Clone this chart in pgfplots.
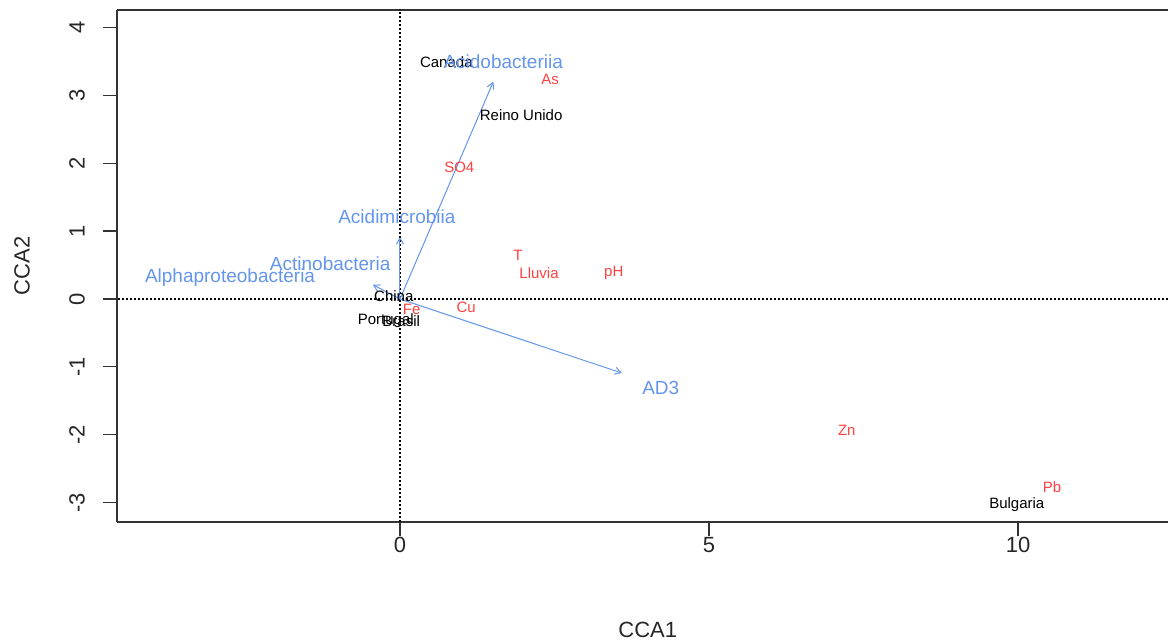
\documentclass[border=0pt]{standalone}
\usepackage{fontspec}
\setmainfont{Liberation Sans}
\usepackage{pgfplots}
\pgfplotsset{compat=1.18}
\usetikzlibrary{arrows.meta}
\definecolor{spblue}{RGB}{100,149,237}
\definecolor{envred}{RGB}{255,64,64}
\begin{document}
\begin{tikzpicture}
\begin{axis}[
 scale only axis, width=525.5pt, height=256pt,
 xmin=-4.579, xmax=12.427, ymin=-3.284, ymax=4.256,
 axis x line*=box, axis y line*=left,
 xtick={0,5,10}, ytick={-3,...,4},
 xtick pos=bottom, ytick pos=left,
 tick align=outside, major tick length=7pt,
 tick style={black!80, line width=0.6pt},
 axis line style={black!80, line width=0.6pt},
 /pgf/number format/assume math mode=true,
 ticklabel style={font=\fontsize{11}{13}\selectfont, text=black!85},
 xticklabel style={anchor=center, yshift=-4.5pt},
 yticklabel style={anchor=center, xshift=-13pt, rotate=90},
 xlabel={CCA1}, ylabel={CCA2},
 label style={font=\fontsize{11}{13}\selectfont, text=black!85},
 xlabel style={at={(axis description cs:0.505,-0.211)}, anchor=center},
 ylabel style={at={(axis description cs:-0.0904,0.5)}, anchor=center},
 clip=true,
]
% reference lines
\addplot[black, line width=0.85pt, dash pattern=on 0.85pt off 1.15pt] coordinates {(-10,0) (20,0)};
\addplot[black, line width=0.85pt, dash pattern=on 0.85pt off 1.15pt] coordinates {(0,-10) (0,10)};
% species arrows
\addplot[spblue, line width=0.5pt, -{Straight Barb[angle=60:3.5pt]}] coordinates {(0,0) (1.51,3.20)};
\addplot[spblue, line width=0.5pt, -{Straight Barb[angle=60:3.5pt]}] coordinates {(0,0) (0,0.91)};
\addplot[spblue, line width=0.5pt, -{Straight Barb[angle=60:3.5pt]}] coordinates {(0,0) (-0.44,0.21)};
\addplot[spblue, line width=0.5pt, -{Straight Barb[angle=60:3.5pt]}] coordinates {(0,0) (3.59,-1.09)};
% site labels
\addplot[draw=none, mark=none, nodes near coords, point meta=explicit symbolic,
 nodes near coords style={anchor=center, inner sep=0pt, font=\fontsize{7.5}{9}\selectfont, text=black}]
 table[col sep=comma, row sep=\\, meta=label] {
x,y,label\\
0.75,3.49,Canada\\
1.96,2.71,Reino Unido\\
-0.10,0.04,China\\
-0.23,-0.32,Portugal\\
0.02,-0.32,Brasil\\
9.98,-3.03,Bulgaria\\
};
% environmental labels
\addplot[draw=none, mark=none, nodes near coords, point meta=explicit symbolic,
 nodes near coords style={anchor=center, inner sep=0pt, font=\fontsize{7.5}{9}\selectfont, text=envred}]
 table[col sep=comma, row sep=\\, meta=label] {
x,y,label\\
2.43,3.24,As\\
0.96,1.94,SO4\\
1.91,0.65,T\\
2.25,0.38,Lluvia\\
3.46,0.38,pH\\
1.07,-0.13,Cu\\
0.19,-0.16,Fe\\
7.23,-1.93,Zn\\
10.55,-2.77,Pb\\
};
% species labels
\addplot[draw=none, mark=none, nodes near coords, point meta=explicit symbolic,
 nodes near coords style={anchor=center, inner sep=0pt, font=\fontsize{9.5}{11}\selectfont, text=spblue}]
 table[col sep=comma, row sep=\\, meta=label] {
x,y,label\\
1.67,3.49,Acidobacteriia\\
-0.05,1.21,Acidimicrobiia\\
-1.13,0.52,Actinobacteria\\
-2.75,0.32,Alphaproteobacteria\\
4.22,-1.31,AD3\\
};
\end{axis}
\pgfresetboundingbox
\path (-58.5pt,-59.5pt) rectangle (525.5pt,261pt);
\end{tikzpicture}
\end{document}
